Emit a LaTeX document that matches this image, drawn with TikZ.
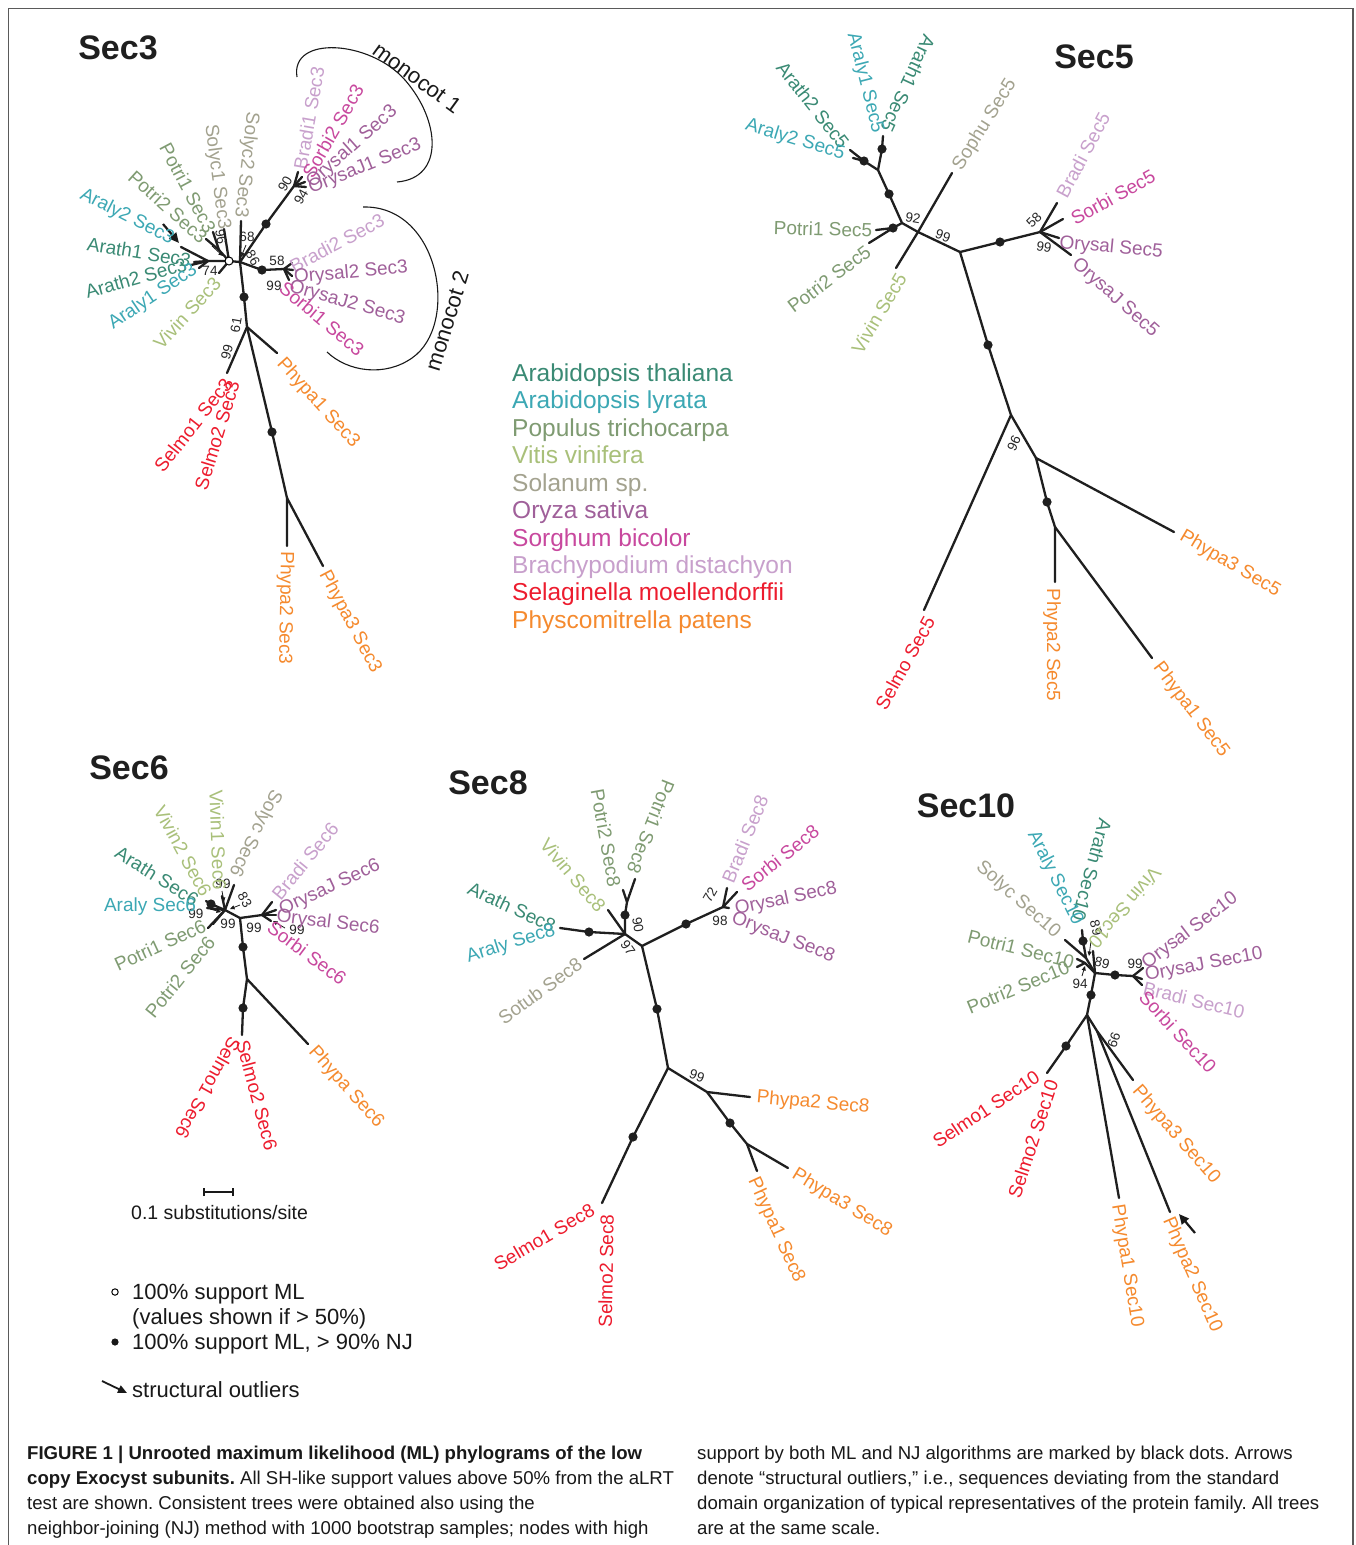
\documentclass[tikz,border=0pt]{standalone}
\usepackage{fontspec}
\setmainfont{Liberation Sans}
\usetikzlibrary{arrows.meta}
\frenchspacing
\definecolor{arath}{RGB}{58,138,116}
\definecolor{araly}{RGB}{60,168,180}
\definecolor{potri}{RGB}{127,155,114}
\definecolor{vivin}{RGB}{169,192,122}
\definecolor{solanum}{RGB}{163,162,143}
\definecolor{oryza}{RGB}{160,96,154}
\definecolor{sorghum}{RGB}{200,72,158}
\definecolor{brachy}{RGB}{200,160,204}
\definecolor{selmo}{RGB}{237,28,46}
\definecolor{phypa}{RGB}{245,138,46}
\definecolor{framecol}{RGB}{90,90,90}
\newcommand\tiplab[5]{\node[lab,text=#1,rotate=#2] (#3) at (#4) {#5};}
\newcommand\supval[4]{\node[sv,rotate=#1] (#2) at (#3) {#4};}
\newcommand\bdot[1]{\fill[black!88] (#1) circle (4.6pt);}
\begin{document}
\begin{tikzpicture}[x=1pt,y=-1pt,
  br/.style={line width=2.3pt,black!88,line cap=round,line join=round},
  lab/.style={font=\fontsize{19}{20}\selectfont,inner sep=0pt,anchor=center},
  sv/.style={font=\fontsize{13.5}{14}\selectfont,inner sep=0pt,anchor=center,text=black!85},
  ttl/.style={font=\fontsize{34}{36}\selectfont\bfseries,inner sep=0pt,anchor=center,text=black!88},
  legtxt/.style={font=\fontsize{24.5}{26}\selectfont,inner sep=0pt,anchor=base west},
  keytxt/.style={font=\fontsize{22}{23}\selectfont,inner sep=0pt,anchor=base west,text=black!90},
  captxt/.style={font=\fontsize{18.6}{20}\selectfont,inner sep=0pt,anchor=base west,text=black!90},
  outl/.style={line width=2.2pt,black!90,-{Triangle[length=10pt,width=9pt]}},
  outs/.style={line width=0.8pt,black!90,-{Triangle[length=4.5pt,width=4pt]}},
  monoarc/.style={line width=1.1pt,black!90}]
\useasboundingbox (0,0) rectangle (1356,1545);
\fill[white] (0,0) rectangle (1356,1545);
% frame
\coordinate (fTL) at (8.5,8.5); \coordinate (fTR) at (1353,8.5);
\coordinate (fBL) at (8.5,1545); \coordinate (fBR) at (1353,1545);
\draw[framecol,line width=1.2pt] (fBL) -- (fTL) -- (fTR) -- (fBR);

% ================= Sec3 =================
\node[ttl] (s3title) at (118,48) {Sec3};
\coordinate (s3c0) at (229,261);
\coordinate (s3c1) at (240,262);
\coordinate (s3l1) at (208,261);
\coordinate (s3tAraly2) at (181,247);
\coordinate (s3tArath1) at (194,262);
\coordinate (s3tArath2) at (191,265);
\coordinate (s3tAraly1) at (199,268);
\coordinate (s3tVivin) at (219,273);
\coordinate (s3p) at (219,250);
\coordinate (s3tPotri2) at (206,239);
\coordinate (s3tPotri1) at (213,232);
\coordinate (s3tSolyc1) at (224,229);
\coordinate (s3tSolyc2) at (241,221);
\coordinate (s3d1) at (266,224);
\coordinate (s3m1) at (294,186);
\coordinate (s3tBradi1) at (298,172);
\coordinate (s3tSorbi2) at (302,177);
\coordinate (s3tOrysal1) at (305,182);
\coordinate (s3tOrysaj1) at (306,187);
\coordinate (s3d2) at (262,270);
\coordinate (s3m2) at (284,269);
\coordinate (s3tBradi2) at (292,263);
\coordinate (s3tOrysal2) at (293,270);
\coordinate (s3tOrysaj2) at (292,276);
\coordinate (s3tSorbi1) at (289,280);
\coordinate (s3d3) at (244,297);
\coordinate (s3n61) at (247,327);
\coordinate (s3tSelmo) at (227,373);
\coordinate (s3tPhypa1) at (277,353);
\coordinate (s3d4) at (272,432);
\coordinate (s3n2) at (287,498);
\coordinate (s3tPhypa2) at (287,546);
\coordinate (s3tPhypa3) at (323,566);
\draw[br] (s3tAraly2) -- (s3l1) -- (s3c0);
\draw[br] (s3tArath1) -- (s3l1);
\draw[br] (s3tArath2) -- (s3l1);
\draw[br] (s3tAraly1) -- (s3l1);
\draw[br] (s3tVivin) -- (s3c0);
\draw[br] (s3tPotri2) -- (s3p) -- (s3c0);
\draw[br] (s3tPotri1) -- (s3p);
\draw[br] (s3tSolyc1) -- (s3c0);
\draw[br] (s3c0) -- (s3c1);
\draw[br] (s3tSolyc2) -- (s3c1);
\draw[br] (s3c1) -- (s3d1) -- (s3m1);
\draw[br] (s3m1) -- (s3tBradi1); \draw[br] (s3m1) -- (s3tSorbi2);
\draw[br] (s3m1) -- (s3tOrysal1); \draw[br] (s3m1) -- (s3tOrysaj1);
\draw[br] (s3c1) -- (s3d2) -- (s3m2);
\draw[br] (s3m2) -- (s3tBradi2); \draw[br] (s3m2) -- (s3tOrysal2);
\draw[br] (s3m2) -- (s3tOrysaj2); \draw[br] (s3m2) -- (s3tSorbi1);
\draw[br] (s3c1) -- (s3d3) -- (s3n61) -- (s3tSelmo);
\draw[br] (s3n61) -- (s3tPhypa1);
\draw[br] (s3n61) -- (s3d4) -- (s3n2) -- (s3tPhypa2);
\draw[br] (s3n2) -- (s3tPhypa3);
\draw[fill=white,line width=1pt] (s3c0) circle (4pt);
\bdot{s3d1}\bdot{s3d2}\bdot{s3d3}\bdot{s3d4}
\supval{60}{s3v90}{285,184}{90}
\supval{60}{s3v94}{301,197}{94}
\supval{0}{s3v58}{277,261}{58}
\supval{0}{s3v99a}{274,286}{99}
\supval{80}{s3v61}{236,325}{61}
\supval{75}{s3v99b}{227,352}{99}
\supval{0}{s3v74}{210,271}{74}
\supval{-80}{s3v96}{221,237}{96}
\supval{0}{s3v68}{247,237}{68}
\supval{-60}{s3v86}{253,258}{86}
\coordinate (s3a1s) at (163,224); \coordinate (s3a1e) at (179,243);
\draw[outl] (s3a1s) -- (s3a1e);
\coordinate (s3a2s) at (212,246); \coordinate (s3a2e) at (223,256);
\draw[outs] (s3a2s) -- (s3a2e);
\coordinate (s3a3s) at (246,245); \coordinate (s3a3e) at (241,257);
\draw[outs] (s3a3s) -- (s3a3e);
\tiplab{brachy}{80}{s3Lbradi1}{309,118}{Bradi1 Sec3}
\tiplab{sorghum}{60}{s3Lsorbi2}{333,131}{Sorbi2 Sec3}
\tiplab{oryza}{41.5}{s3Lorysal1}{352,147}{Orysal1 Sec3}
\tiplab{oryza}{22}{s3Lorysaj1}{365,167}{OrysaJ1 Sec3}
\tiplab{brachy}{28}{s3Lbradi2}{337,243}{Bradi2 Sec3}
\tiplab{oryza}{5}{s3Lorysal2}{351,273}{Orysal2 Sec3}
\tiplab{oryza}{-16}{s3Lorysaj2}{347,303}{OrysaJ2 Sec3}
\tiplab{sorghum}{-40}{s3Lsorbi1}{322,319}{Sorbi1 Sec3}
\tiplab{araly}{-27}{s3Laraly2}{127,217}{Araly2 Sec3}
\tiplab{potri}{-42}{s3Lpotri2}{168,207}{Potri2 Sec3}
\tiplab{potri}{-62}{s3Lpotri1}{188,188}{Potri1 Sec3}
\tiplab{solanum}{-82.6}{s3Lsolyc1}{217,177}{Solyc1 Sec3}
\tiplab{solanum}{-96.5}{s3Lsolyc2}{246,165}{Solyc2 Sec3}
\tiplab{arath}{-9}{s3Larath1}{139,252}{Arath1 Sec3}
\tiplab{arath}{16}{s3Larath2}{136,278}{Arath2 Sec3}
\tiplab{araly}{34}{s3Laraly1}{153,297}{Araly1 Sec3}
\tiplab{vivin}{47.6}{s3Lvivin}{187,313}{Vivin Sec3}
\tiplab{phypa}{-47.7}{s3Lphypa1}{318,403}{Phypa1 Sec3}
\tiplab{selmo}{51.7}{s3Lselmo1}{193,425}{Selmo1 Sec3}
\tiplab{selmo}{73}{s3Lselmo2}{217,435}{Selmo2 Sec3}
\tiplab{phypa}{-91}{s3Lphypa2}{285,608}{Phypa2 Sec3}
\tiplab{phypa}{-62}{s3Lphypa3}{350,622}{Phypa3 Sec3}
\node[font=\fontsize{22}{22}\selectfont,inner sep=0pt,rotate=-36,text=black!90] (s3mono1) at (417,78) {monocot 1};
\node[font=\fontsize{22}{22}\selectfont,inner sep=0pt,rotate=73,text=black!90] (s3mono2) at (447,321) {monocot 2};
\coordinate (s3b1a) at (297,77); \coordinate (s3b1b) at (397,182);
\draw[monoarc] (s3b1a) .. controls (290,35) and (370,40) .. (405,80) .. controls (440,120) and (445,178) .. (s3b1b);
\coordinate (s3b2a) at (363,207); \coordinate (s3b2b) at (327,352);
\draw[monoarc] (s3b2a) .. controls (440,205) and (460,325) .. (412,358) .. controls (385,377) and (348,372) .. (s3b2b);

% ================= Sec5 =================
\node[ttl] (s5title) at (1094,57) {Sec5};
\coordinate (s5tA1) at (883,136);
\coordinate (s5dA) at (882,149);
\coordinate (s5nA) at (878,170);
\coordinate (s5tA2) at (850,150);
\coordinate (s5tA3) at (853,158);
\coordinate (s5dB) at (864,161);
\coordinate (s5dC) at (889,194);
\coordinate (s5n92) at (902,223);
\coordinate (s5dP) at (893,228);
\coordinate (s5tP1) at (876,230);
\coordinate (s5tP2) at (869,243);
\coordinate (s5nC) at (918,232);
\coordinate (s5tSophu) at (952,173);
\coordinate (s5tVivin) at (896,268);
\coordinate (s5n99) at (960,252);
\coordinate (s5dM) at (1000,242);
\coordinate (s5nM) at (1040,232);
\coordinate (s5tBradi) at (1057,203);
\coordinate (s5tSorbi) at (1063,219);
\coordinate (s5tOrysal) at (1059,238);
\coordinate (s5tOrysaj) at (1071,255);
\coordinate (s5dT) at (988,345);
\coordinate (s5n96) at (1011,415);
\coordinate (s5tSelmo) at (924,610);
\coordinate (s5nP) at (1036,458);
\coordinate (s5tPhypa3) at (1174,532);
\coordinate (s5dP2) at (1047,502);
\coordinate (s5nP2) at (1055,527);
\coordinate (s5tPhypa2) at (1055,582);
\coordinate (s5tPhypa1) at (1152,658);
\draw[br] (s5tA1) -- (s5dA) -- (s5nA);
\draw[br] (s5tA2) -- (s5dB) -- (s5nA);
\draw[br] (s5tA3) -- (s5dB);
\draw[br] (s5nA) -- (s5dC) -- (s5n92) -- (s5nC);
\draw[br] (s5n92) -- (s5dP) -- (s5tP1);
\draw[br] (s5dP) -- (s5tP2);
\draw[br] (s5nC) -- (s5tSophu);
\draw[br] (s5nC) -- (s5tVivin);
\draw[br] (s5nC) -- (s5n99) -- (s5dM) -- (s5nM);
\draw[br] (s5nM) -- (s5tBradi); \draw[br] (s5nM) -- (s5tSorbi);
\draw[br] (s5nM) -- (s5tOrysal); \draw[br] (s5nM) -- (s5tOrysaj);
\draw[br] (s5n99) -- (s5dT) -- (s5n96) -- (s5tSelmo);
\draw[br] (s5n96) -- (s5nP) -- (s5tPhypa3);
\draw[br] (s5nP) -- (s5dP2) -- (s5nP2) -- (s5tPhypa2);
\draw[br] (s5nP2) -- (s5tPhypa1);
\bdot{s5dA}\bdot{s5dB}\bdot{s5dC}\bdot{s5dP}\bdot{s5dM}\bdot{s5dT}\bdot{s5dP2}
\supval{-10}{s5v92}{913,218}{92}
\supval{-20}{s5v99a}{943,236}{99}
\supval{45}{s5v58}{1034,220}{58}
\supval{-10}{s5v99b}{1044,247}{99}
\supval{-115}{s5v96}{1014,443}{96}
\tiplab{arath}{-114.8}{s5Larath1}{908,84}{Arath1 Sec5}
\tiplab{araly}{-75.8}{s5Laraly1}{865,83}{Araly1 Sec5}
\tiplab{arath}{-51.8}{s5Larath2}{813,105}{Arath2 Sec5}
\tiplab{araly}{-16.7}{s5Laraly2}{795,140}{Araly2 Sec5}
\tiplab{solanum}{58}{s5Lsophu}{985,125}{Sophu Sec5}
\tiplab{brachy}{61.8}{s5Lbradi}{1083,155}{Bradi Sec5}
\tiplab{sorghum}{29}{s5Lsorbi}{1113,197}{Sorbi Sec5}
\tiplab{oryza}{-5.4}{s5Lorysal}{1111,248}{Orysal Sec5}
\tiplab{oryza}{-41.8}{s5Lorysaj}{1115,298}{OrysaJ Sec5}
\tiplab{potri}{-1.7}{s5Lpotri1}{823,229}{Potri1 Sec5}
\tiplab{potri}{37}{s5Lpotri2}{829,279}{Potri2 Sec5}
\tiplab{vivin}{59.6}{s5Lvivin}{879,313}{Vivin Sec5}
\tiplab{selmo}{61}{s5Lselmo}{905,663}{Selmo Sec5}
\tiplab{phypa}{-90}{s5Lphypa2}{1052,645}{Phypa2 Sec5}
\tiplab{phypa}{-52.8}{s5Lphypa1}{1191,710}{Phypa1 Sec5}
\tiplab{phypa}{-30.6}{s5Lphypa3}{1230,564}{Phypa3 Sec5}

% ================= Sec6 =================
\node[ttl] (s6title) at (129,768) {Sec6};
\coordinate (s6nL) at (225,910);
\coordinate (s6tArath) at (206,901);
\coordinate (s6dArath) at (211,904);
\coordinate (s6tAraly) at (207,908);
\coordinate (s6tPotri1) at (208,928);
\coordinate (s6tPotri2) at (213,924);
\coordinate (s6tVivin) at (222,896);
\coordinate (s6tSolyc) at (234,885);
\coordinate (s6nB) at (240,918);
\coordinate (s6nM) at (262,915);
\coordinate (s6tBradi) at (272,902);
\coordinate (s6tOrysaj) at (276,910);
\coordinate (s6tOrysal) at (276,915);
\coordinate (s6tSorbi) at (271,921);
\coordinate (s6dT1) at (243,947);
\coordinate (s6nT) at (247,979);
\coordinate (s6dT2) at (243,1008);
\coordinate (s6tSelmo) at (242,1035);
\coordinate (s6tPhypa) at (308,1044);
\draw[br] (s6tArath) -- (s6dArath) -- (s6nL);
\draw[br] (s6tAraly) -- (s6nL);
\draw[br] (s6tPotri1) -- (s6nL);
\draw[br] (s6tPotri2) -- (s6nL);
\draw[br] (s6tVivin) -- (s6nL);
\draw[br] (s6tSolyc) -- (s6nL);
\draw[br] (s6nL) -- (s6nB) -- (s6nM);
\draw[br] (s6nM) -- (s6tBradi); \draw[br] (s6nM) -- (s6tOrysaj);
\draw[br] (s6nM) -- (s6tOrysal); \draw[br] (s6nM) -- (s6tSorbi);
\draw[br] (s6nB) -- (s6dT1) -- (s6nT) -- (s6dT2) -- (s6tSelmo);
\draw[br] (s6nT) -- (s6tPhypa);
\bdot{s6dArath}\bdot{s6dT1}\bdot{s6dT2}
\supval{0}{s6v99a}{223,884}{99}
\supval{-60}{s6v83}{245,900}{83}
\supval{0}{s6v99b}{196,914}{99}
\supval{0}{s6v99c}{228,924}{99}
\supval{0}{s6v99d}{254,928}{99}
\supval{0}{s6v99e}{297,930}{99}
\coordinate (s6a1s) at (222,891); \coordinate (s6a1e) at (224,902);
\draw[outs] (s6a1s) -- (s6a1e);
\coordinate (s6a2s) at (240,905); \coordinate (s6a2e) at (230,909);
\draw[outs] (s6a2s) -- (s6a2e);
\coordinate (s6a3s) at (210,909); \coordinate (s6a3e) at (221,912);
\draw[outs] (s6a3s) -- (s6a3e);
\coordinate (s6a4s) at (285,928); \coordinate (s6a4e) at (273,921);
\draw[outs] (s6a4s) -- (s6a4e);
\tiplab{vivin}{-61.5}{s6Lvivin2}{183,851}{Vivin2 Sec6}
\tiplab{vivin}{-88}{s6Lvivin1}{218,840}{Vivin1 Sec6}
\tiplab{solanum}{-116.8}{s6Lsolyc}{255,833}{Solyc Sec6}
\tiplab{arath}{-32}{s6Larath}{157,876}{Arath Sec6}
\tiplab{araly}{0}{s6Laraly}{150,907}{Araly Sec6}
\tiplab{potri}{24.8}{s6Lpotri1}{160,945}{Potri1 Sec6}
\tiplab{potri}{51}{s6Lpotri2}{180,977}{Potri2 Sec6}
\tiplab{brachy}{50.6}{s6Lbradi}{305,861}{Bradi Sec6}
\tiplab{oryza}{25}{s6Lorysaj}{330,888}{OrysaJ Sec6}
\tiplab{oryza}{-6.7}{s6Lorysal}{328,923}{Orysal Sec6}
\tiplab{sorghum}{-36.9}{s6Lsorbi}{307,953}{Sorbi Sec6}
\tiplab{selmo}{-119.4}{s6Lselmo1}{208,1088}{Selmo1 Sec6}
\tiplab{selmo}{-75}{s6Lselmo2}{257,1095}{Selmo2 Sec6}
\tiplab{phypa}{-48}{s6Lphypa}{346,1087}{Phypa Sec6}

% ================= Sec8 =================
\node[ttl] (s8title) at (488,783) {Sec8};
\coordinate (s8tP2) at (623,890);
\coordinate (s8tP1) at (635,879);
\coordinate (s8nP) at (627,902);
\coordinate (s8dP) at (625,915);
\coordinate (s8n90) at (625,934);
\coordinate (s8tVivin) at (608,910);
\coordinate (s8tArath) at (560,928);
\coordinate (s8dArath) at (589,932);
\coordinate (s8tSotub) at (584,959);
\coordinate (s8n97) at (642,946);
\coordinate (s8dM) at (686,924);
\coordinate (s8nM) at (723,907);
\coordinate (s8tBradi) at (727,888);
\coordinate (s8tSorbi) at (737,892);
\coordinate (s8tOrysal) at (729,908);
\coordinate (s8dT) at (657,1009);
\coordinate (s8nT) at (668,1068);
\coordinate (s8dS) at (633,1137);
\coordinate (s8tSelmo) at (602,1203);
\coordinate (s8n99) at (707,1092);
\coordinate (s8tPhypa2) at (750,1097);
\coordinate (s8dP2) at (730,1123);
\coordinate (s8nP2) at (747,1144);
\coordinate (s8tPhypa1) at (757,1171);
\coordinate (s8tPhypa3) at (788,1168);
\draw[br] (s8tP2) -- (s8nP) -- (s8dP) -- (s8n90);
\draw[br] (s8tP1) -- (s8nP);
\draw[br] (s8tVivin) -- (s8n90);
\draw[br] (s8tArath) -- (s8dArath) -- (s8n90);
\draw[br] (s8tSotub) -- (s8n90);
\draw[br] (s8n90) -- (s8n97) -- (s8dM) -- (s8nM);
\draw[br] (s8nM) -- (s8tBradi); \draw[br] (s8nM) -- (s8tSorbi);
\draw[br] (s8nM) -- (s8tOrysal);
\draw[br] (s8n97) -- (s8dT) -- (s8nT) -- (s8dS) -- (s8tSelmo);
\draw[br] (s8nT) -- (s8n99) -- (s8tPhypa2);
\draw[br] (s8n99) -- (s8dP2) -- (s8nP2) -- (s8tPhypa1);
\draw[br] (s8nP2) -- (s8tPhypa3);
\bdot{s8dP}\bdot{s8dArath}\bdot{s8dM}\bdot{s8dT}\bdot{s8dS}\bdot{s8dP2}
\supval{-80}{s8v90}{638,925}{90}
\supval{-55}{s8v97}{628,948}{97}
\supval{60}{s8v72}{710,895}{72}
\supval{0}{s8v98}{720,921}{98}
\supval{-20}{s8v99}{697,1076}{99}
\tiplab{potri}{-79.7}{s8Lpotri2}{606,838}{Potri2 Sec8}
\tiplab{potri}{-111.7}{s8Lpotri1}{651,827}{Potri1 Sec8}
\tiplab{vivin}{-49.4}{s8Lvivin}{573,875}{Vivin Sec8}
\tiplab{arath}{-24.7}{s8Larath}{512,907}{Arath Sec8}
\tiplab{araly}{17.6}{s8Laraly}{511,944}{Araly Sec8}
\tiplab{solanum}{36}{s8Lsotub}{540,991}{Sotub Sec8}
\tiplab{brachy}{67.7}{s8Lbradi}{745,839}{Bradi Sec8}
\tiplab{sorghum}{38.7}{s8Lsorbi}{780,858}{Sorbi Sec8}
\tiplab{oryza}{11.8}{s8Lorysal}{786,899}{Orysal Sec8}
\tiplab{oryza}{-21.3}{s8Lorysaj}{783,938}{OrysaJ Sec8}
\tiplab{phypa}{-5}{s8Lphypa2}{813,1103}{Phypa2 Sec8}
\tiplab{phypa}{-65.6}{s8Lphypa1}{776,1230}{Phypa1 Sec8}
\tiplab{phypa}{-31.4}{s8Lphypa3}{842,1203}{Phypa3 Sec8}
\tiplab{selmo}{30.5}{s8Lselmo1}{544,1237}{Selmo1 Sec8}
\tiplab{selmo}{89}{s8Lselmo2}{606,1271}{Selmo2 Sec8}

% ================= Sec10 =================
\node[ttl] (s10title) at (966,806) {Sec10};
\coordinate (s10tAA) at (1082,930);
\coordinate (s10dAA) at (1083,941);
\coordinate (s10nA) at (1086,958);
\coordinate (s10tSolyc) at (1065,940);
\coordinate (s10tVivin) at (1093,951);
\coordinate (s10nPo) at (1085,963);
\coordinate (s10tPo1) at (1077,959);
\coordinate (s10tPo2) at (1077,967);
\coordinate (s10nC) at (1095,973);
\coordinate (s10dM) at (1115,975);
\coordinate (s10nM) at (1133,976);
\coordinate (s10tM1) at (1143,968);
\coordinate (s10tM2) at (1142,979);
\coordinate (s10tM3) at (1142,985);
\coordinate (s10dT) at (1091,995);
\coordinate (s10nT) at (1087,1015);
\coordinate (s10dS) at (1066,1046);
\coordinate (s10tSelmo) at (1047,1073);
\coordinate (s10tPhypa1) at (1119,1198);
\coordinate (s10n99) at (1097,1031);
\coordinate (s10tPhypa3) at (1133,1080);
\coordinate (s10tPhypa2) at (1170,1212);
\draw[br] (s10tAA) -- (s10dAA) -- (s10nA) -- (s10nC);
\draw[br] (s10tSolyc) -- (s10nA);
\draw[br] (s10tVivin) -- (s10nC);
\draw[br] (s10tPo1) -- (s10nPo) -- (s10nC);
\draw[br] (s10tPo2) -- (s10nPo);
\draw[br] (s10nC) -- (s10dM) -- (s10nM);
\draw[br] (s10nM) -- (s10tM1); \draw[br] (s10nM) -- (s10tM2); \draw[br] (s10nM) -- (s10tM3);
\draw[br] (s10nC) -- (s10dT) -- (s10nT) -- (s10dS) -- (s10tSelmo);
\draw[br] (s10nT) -- (s10tPhypa1);
\draw[br] (s10nT) -- (s10n99) -- (s10tPhypa3);
\draw[br] (s10n99) -- (s10tPhypa2);
\bdot{s10dAA}\bdot{s10dM}\bdot{s10dT}\bdot{s10dS}
\supval{-75}{s10v89a}{1096,928}{89}
\supval{-15}{s10v89b}{1102,963}{89}
\supval{0}{s10v94}{1080,984}{94}
\supval{0}{s10v99a}{1135,964}{99}
\supval{-110}{s10v99b}{1114,1040}{99}
\coordinate (s10a1s) at (1091,941); \coordinate (s10a1e) at (1089,956);
\draw[outs] (s10a1s) -- (s10a1e);
\coordinate (s10a2s) at (1082,976); \coordinate (s10a2e) at (1085,966);
\draw[outs] (s10a2s) -- (s10a2e);
\coordinate (s10a3s) at (1195,1233); \coordinate (s10a3e) at (1179,1214);
\draw[outl] (s10a3s) -- (s10a3e);
\tiplab{arath}{-105.4}{s10Larath}{1092,870}{Arath Sec10}
\tiplab{araly}{-63.4}{s10Laraly}{1055,878}{Araly Sec10}
\tiplab{vivin}{-130.6}{s10Lvivin}{1125,908}{Vivin Sec10}
\tiplab{solanum}{-41.7}{s10Lsolyc}{1018,900}{Solyc Sec10}
\tiplab{potri}{-14}{s10Lpotri1}{1021,949}{Potri1 Sec10}
\tiplab{potri}{22.4}{s10Lpotri2}{1018,987}{Potri2 Sec10}
\tiplab{oryza}{37}{s10Lorysal}{1190,931}{Orysal Sec10}
\tiplab{oryza}{11}{s10Lorysaj}{1204,965}{OrysaJ Sec10}
\tiplab{brachy}{-13.8}{s10Lbradi}{1194,1000}{Bradi Sec10}
\tiplab{sorghum}{-47.3}{s10Lsorbi}{1178,1032}{Sorbi Sec10}
\tiplab{selmo}{33.7}{s10Lselmo1}{986,1109}{Selmo1 Sec10}
\tiplab{selmo}{71.8}{s10Lselmo2}{1033,1139}{Selmo2 Sec10}
\tiplab{phypa}{-49}{s10Lphypa3}{1176,1135}{Phypa3 Sec10}
\tiplab{phypa}{-80.7}{s10Lphypa1}{1127,1266}{Phypa1 Sec10}
\tiplab{phypa}{-66.5}{s10Lphypa2}{1192,1275}{Phypa2 Sec10}

% ================= species legend =================
\node[legtxt,text=arath] (sp1) at (512,381) {Arabidopsis thaliana};
\node[legtxt,text=araly] (sp2) at (512,408) {Arabidopsis lyrata};
\node[legtxt,text=potri] (sp3) at (512,436) {Populus trichocarpa};
\node[legtxt,text=vivin] (sp4) at (512,463) {Vitis vinifera};
\node[legtxt,text=solanum] (sp5) at (512,491) {Solanum sp.};
\node[legtxt,text=oryza] (sp6) at (512,518) {Oryza sativa};
\node[legtxt,text=sorghum] (sp7) at (512,546) {Sorghum bicolor};
\node[legtxt,text=brachy] (sp8) at (512,573) {Brachypodium distachyon};
\node[legtxt,text=selmo] (sp9) at (512,600) {Selaginella moellendorffii};
\node[legtxt,text=phypa] (sp10) at (512,628) {Physcomitrella patens};

% ================= scale and key =================
\coordinate (sbA) at (204,1192); \coordinate (sbB) at (233,1192);
\draw[line width=1.3pt,black!90] (sbA) -- (sbB);
\draw[line width=1.3pt,black!90] ([yshift=-4pt]sbA) -- ([yshift=4pt]sbA);
\draw[line width=1.3pt,black!90] ([yshift=-4pt]sbB) -- ([yshift=4pt]sbB);
\node[font=\fontsize{19.5}{20}\selectfont,inner sep=0pt,anchor=base west,text=black!90] (sbT) at (131,1219) {0.1 substitutions/site};
\coordinate (kc1) at (115,1292);
\draw[line width=1pt,fill=white] (kc1) circle (3.2pt);
\node[keytxt] (k1) at (132,1299) {100\% support ML};
\node[keytxt] (k2) at (132,1324) {(values shown if > 50\%)};
\coordinate (kc2) at (115,1342);
\fill[black!90] (kc2) circle (3.6pt);
\node[keytxt] (k3) at (132,1349) {100\% support ML, > 90\% NJ};
\coordinate (kaS) at (102,1381); \coordinate (kaE) at (127,1393);
\draw[line width=1.8pt,black!90,-{Triangle[length=9pt,width=8pt]}] (kaS) -- (kaE);
\node[keytxt] (k4) at (132,1397) {structural outliers};

% ================= caption =================
\node[captxt] (c1) at (27,1459) {\textbf{FIGURE 1 | Unrooted maximum likelihood (ML) phylograms of the low}};
\node[captxt] (c2) at (27,1484) {\textbf{copy Exocyst subunits.} All SH-like support values above 50\% from the aLRT};
\node[captxt] (c3) at (27,1509) {test are shown. Consistent trees were obtained also using the};
\node[captxt] (c4) at (27,1534) {neighbor-joining (NJ) method with 1000 bootstrap samples; nodes with high};
\node[captxt] (c5) at (697,1459) {support by both ML and NJ algorithms are marked by black dots. Arrows};
\node[captxt] (c6) at (697,1484) {denote “structural outliers,” i.e., sequences deviating from the standard};
\node[captxt] (c7) at (697,1509) {domain organization of typical representatives of the protein family. All trees};
\node[captxt] (c8) at (697,1534) {are at the same scale.};
\end{tikzpicture}
\end{document}
